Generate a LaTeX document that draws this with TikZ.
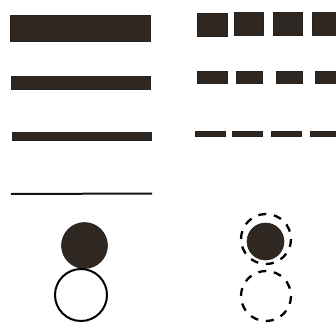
\documentclass[tikz,border=0pt]{standalone}
\begin{document}
\begin{tikzpicture}[x=1pt,y=-1pt,
  ink/.style={fill={rgb,255:red,46;green,39;blue,34}, draw={rgb,255:red,40;green,34;blue,30}, line width=0.6pt},
  ring/.style={draw=black, line width=2pt},
  dashring/.style={draw=black, line width=2.3pt, dash pattern=on 8pt off 7.7pt}]
\useasboundingbox (0,0) rectangle (336,326);
% left bars
\filldraw[ink] (10,15) rectangle (150,41);
\filldraw[ink] (11,76) rectangle (150,89);
\filldraw[ink] (12,132) rectangle (151,140);
\draw[draw={rgb,255:red,20;green,18;blue,16}, line width=2pt] (11,194) -- (152,193.5);
% right dashed rows
\filldraw[ink] (197,13) rectangle (227,36);
\filldraw[ink] (234,12) rectangle (263,35);
\filldraw[ink] (273,12) rectangle (302,35);
\filldraw[ink] (312,12) rectangle (337,35);
\filldraw[ink] (197,71) rectangle (227,83);
\filldraw[ink] (236,71) rectangle (262,83);
\filldraw[ink] (276,71) rectangle (302,83);
\filldraw[ink] (315,71) rectangle (337,83);
\filldraw[ink] (195,131) rectangle (225,136);
\filldraw[ink] (232,131) rectangle (262,136);
\filldraw[ink] (271,131) rectangle (301,136);
\filldraw[ink] (310,131) rectangle (337,136);
% left circles
\filldraw[ink] (84.5,245.5) circle (23);
\draw[ring] (81,295) circle (26);
% right circles
\draw[dashring] (266,239) circle (25);
\filldraw[ink] (265.5,241.5) circle (18.5);
\draw[dashring] (266,296) circle (25);
\end{tikzpicture}
\end{document}
